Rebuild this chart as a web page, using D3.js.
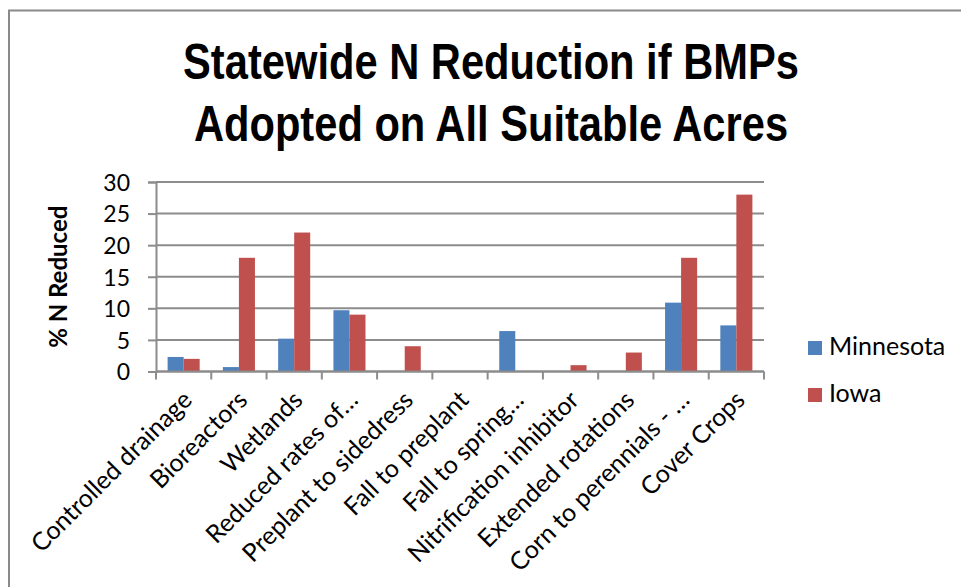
<!DOCTYPE html>
<html>
<head>
<meta charset="utf-8">
<script src="https://cdn.jsdelivr.net/npm/d3@7/dist/d3.min.js"></script>
<style>
  html, body { margin: 0; padding: 0; background: #fff; }
  svg { display: block; }
  .lbl { font-family: Lato, "Open Sans", sans-serif; fill: #000; }
</style>
</head>
<body>
<svg id="chart" width="961" height="587"></svg>
<script>
// BMP practices and the statewide N reduction (%) for each state
const categories = [
  "Controlled drainage", "Bioreactors", "Wetlands", "Reduced rates of…",
  "Preplant to sidedress", "Fall to preplant", "Fall to spring…",
  "Nitrification inhibitor", "Extended rotations", "Corn to perennials - …",
  "Cover Crops"
];
const seriesNames = ["Minnesota", "Iowa"];
const minnesota = [2.3, 0.7, 5.2, 9.7, 0, 0, 6.4, 0, 0, 10.9, 7.3];
const iowa      = [2.0, 18, 22, 9, 4, 0, 0, 1, 3, 18, 28];
const yTicks = [0, 5, 10, 15, 20, 25, 30];
const titleLines = ["Statewide N Reduction if BMPs", "Adopted on All Suitable Acres"];
const yTitle = "% N Reduced";
const colors = ["#4F81BD", "#C0504D"];

const svg = d3.select("#chart");
const plot = { left: 156, right: 764, top: 182, bottom: 371.5 };

// frame of the chart area
svg.append("path")
  .attr("d", `M9,587 V10.5 H961`)
  .attr("fill", "none").attr("stroke", "#8a8a8a").attr("stroke-width", 2);

const x0 = d3.scaleBand().domain(categories).range([plot.left, plot.right]).padding(0);
const x1 = d3.scaleBand().domain(seriesNames)
  .range([x0.bandwidth() * 0.21, x0.bandwidth() * 0.79]).padding(0);
const y = d3.scaleLinear().domain([0, 30]).range([plot.bottom, plot.top]);

// horizontal gridlines
svg.append("g").selectAll("line").data(yTicks).join("line")
  .attr("x1", plot.left).attr("x2", plot.right)
  .attr("y1", d => y(d)).attr("y2", d => y(d))
  .attr("stroke", "#8c8c8c").attr("stroke-width", 2);

// y axis
const yAxis = svg.append("g").attr("transform", `translate(${plot.left},0)`)
  .call(d3.axisLeft(y).tickValues(yTicks).tickSize(8).tickPadding(18));
yAxis.select(".domain").attr("stroke", "#8c8c8c").attr("stroke-width", 2);
yAxis.selectAll(".tick line").attr("stroke", "#8c8c8c").attr("stroke-width", 2);
yAxis.selectAll(".tick text").attr("class", "lbl").attr("font-size", 23).attr("dy", "0.36em");

// x axis: ticks at category boundaries
const bounds = categories.map(c => x0(c)).concat([plot.right]);
svg.append("g").selectAll("line").data(bounds).join("line")
  .attr("x1", d => d).attr("x2", d => d)
  .attr("y1", plot.bottom).attr("y2", plot.bottom + 8)
  .attr("stroke", "#8c8c8c").attr("stroke-width", 2);

// bars
const rows = categories.map((c, i) => ({ cat: c, vals: [minnesota[i], iowa[i]] }));
svg.append("g").selectAll("g").data(rows).join("g")
  .attr("transform", d => `translate(${x0(d.cat)},0)`)
  .selectAll("rect").data(d => d.vals.map((v, k) => ({ k, v }))).join("rect")
  .attr("x", d => x1(seriesNames[d.k]))
  .attr("width", x1.bandwidth())
  .attr("y", d => y(d.v))
  .attr("height", d => y(0) - y(d.v))
  .attr("fill", d => colors[d.k]);

// x axis line on top of bars
svg.append("line")
  .attr("x1", plot.left).attr("x2", plot.right)
  .attr("y1", plot.bottom).attr("y2", plot.bottom)
  .attr("stroke", "#8c8c8c").attr("stroke-width", 2);

// rotated category labels
svg.append("g").selectAll("text").data(categories).join("text")
  .attr("class", "lbl")
  .attr("font-size", 25)
  .attr("text-anchor", "end")
  .attr("transform", d => `translate(${x0(d) + x0.bandwidth() / 2 + 10},${plot.bottom + 30}) rotate(-45)`)
  .text(d => d);

// y axis title
svg.append("text")
  .attr("class", "lbl")
  .attr("font-size", 24).attr("font-weight", "bold")
  .attr("text-anchor", "middle")
  .attr("transform", `translate(67,${(plot.top + plot.bottom) / 2}) rotate(-90)`)
  .text(yTitle);

// title, drawn in a narrowed bold face
const titleWidth = 616;
const titles = svg.append("g").selectAll("text").data(titleLines).join("text")
  .attr("text-anchor", "middle")
  .attr("font-family", "'Liberation Sans', Arial, sans-serif")
  .attr("font-weight", "bold").attr("font-size", 50)
  .text(d => d);
const sx = titleWidth / titles.nodes()[0].getComputedTextLength();
titles.attr("transform", (d, i) => `translate(491,${79 + i * 62}) scale(${sx},1)`);

// legend
const legend = svg.append("g").selectAll("g").data(seriesNames).join("g")
  .attr("transform", (d, i) => `translate(808,${341 + i * 47})`);
legend.append("rect").attr("width", 14).attr("height", 14).attr("fill", (d, i) => colors[i]);
legend.append("text").attr("class", "lbl").attr("x", 21).attr("y", 14)
  .attr("font-size", 25).text(d => d);
</script>
</body>
</html>
